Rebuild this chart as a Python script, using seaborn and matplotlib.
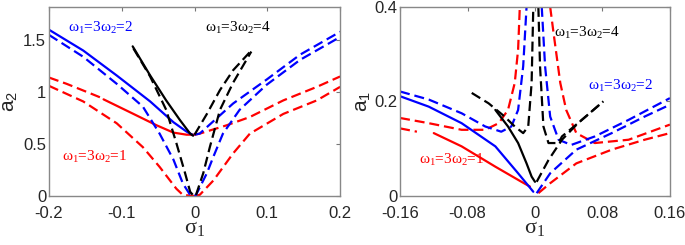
import numpy as np
import pandas as pd
import matplotlib
matplotlib.use("Agg")
import matplotlib.pyplot as plt
import seaborn as sns

# ---- left panel: a2 vs sigma1 ----
L_blue_solid_x = [-0.2, -0.153, -0.107, -0.061, -0.029, -0.011, -0.003]
L_blue_solid_y = [1.60, 1.40, 1.16, 0.91, 0.71, 0.62, 0.59]
L_blue_dash1_x = [-0.2, -0.153, -0.107, -0.071, -0.048, -0.029, -0.016, -0.006, 0.0]
L_blue_dash1_y = [1.55, 1.34, 1.08, 0.86, 0.60, 0.35, 0.12, 0.01, 0.0]
L_blue_dash2_x = [0.0, 0.007, 0.053, 0.099, 0.145, 0.2]
L_blue_dash2_y = [0.59, 0.60, 0.89, 1.12, 1.36, 1.58]
L_blue_dash3_x = [0.0, 0.002, 0.017, 0.026, 0.039, 0.062, 0.099, 0.145, 0.2]
L_blue_dash3_y = [0.0, 0.01, 0.22, 0.38, 0.60, 0.83, 1.07, 1.31, 1.53]

L_red_dash1_x = [-0.2, -0.176, -0.144, -0.130]
L_red_dash1_y = [1.14, 1.08, 0.99, 0.95]
L_red_solid_x = [-0.125, -0.084, -0.052, -0.029, -0.011, 0.0]
L_red_solid_y = [0.93, 0.79, 0.68, 0.61, 0.59, 0.59]
L_red_dash2_x = [-0.2, -0.153, -0.107, -0.071, -0.048, -0.025, -0.016, 0.0]
L_red_dash2_y = [1.06, 0.91, 0.70, 0.47, 0.28, 0.07, 0.01, 0.0]
L_red_dash3_x = [0.0, 0.007, 0.044, 0.076, 0.122, 0.168, 0.2]
L_red_dash3_y = [0.59, 0.60, 0.68, 0.76, 0.92, 1.05, 1.15]
L_red_dash4_x = [0.0, 0.007, 0.026, 0.053, 0.076, 0.122, 0.168, 0.2]
L_red_dash4_y = [0.0, 0.01, 0.15, 0.41, 0.60, 0.79, 0.92, 1.05]

L_black_solid_x = [-0.085, -0.061, -0.039, -0.020, -0.006, -0.002]
L_black_solid_y = [1.44, 1.16, 0.92, 0.73, 0.60, 0.58]
L_black_dash1_x = [-0.084, -0.061, -0.039, -0.025, -0.013, -0.006, -0.001]
L_black_dash1_y = [1.42, 1.15, 0.83, 0.51, 0.22, 0.04, 0.0]
L_black_dash2_x = [0.0, 0.017, 0.035, 0.053, 0.078]
L_black_dash2_y = [0.59, 0.79, 1.02, 1.21, 1.40]
L_black_dash3_x = [0.002, 0.012, 0.021, 0.035, 0.053, 0.078]
L_black_dash3_y = [0.01, 0.22, 0.47, 0.83, 1.09, 1.39]

# ---- right panel: a1 vs sigma1 ----
R_red_dash1_x = [-0.16, -0.126, -0.087, -0.059, -0.043, -0.032, -0.024, -0.020, -0.018]
R_red_dash1_y = [0.165, 0.154, 0.140, 0.140, 0.154, 0.182, 0.239, 0.31, 0.40]
R_red_dash2_x = [-0.16, -0.140]
R_red_dash2_y = [0.143, 0.136]
R_red_solid_x = [-0.120, -0.087, -0.047, -0.016, -0.006]
R_red_solid_y = [0.133, 0.105, 0.062, 0.030, 0.020]
R_red_dash3_x = [0.018, 0.022, 0.030, 0.037, 0.049, 0.071, 0.111, 0.16]
R_red_dash3_y = [0.40, 0.345, 0.239, 0.182, 0.133, 0.112, 0.119, 0.151]
R_red_dash4_x = [0.004, 0.018, 0.049, 0.091, 0.130, 0.16]
R_red_dash4_y = [0.006, 0.027, 0.069, 0.098, 0.119, 0.133]

R_blue_solid_x = [-0.16, -0.126, -0.087, -0.047, -0.020, -0.002]
R_blue_solid_y = [0.211, 0.189, 0.154, 0.105, 0.048, 0.009]
R_blue_dash1_x = [-0.16, -0.126, -0.087, -0.059, -0.040, -0.028, -0.020, -0.014, -0.010]
R_blue_dash1_y = [0.221, 0.204, 0.175, 0.147, 0.136, 0.147, 0.182, 0.274, 0.40]
R_blue_dash2_x = [0.008, 0.012, 0.018, 0.028, 0.043, 0.071, 0.111, 0.16]
R_blue_dash2_y = [0.40, 0.274, 0.168, 0.119, 0.108, 0.126, 0.161, 0.207]
R_blue_dash3_x = [0.002, 0.018, 0.049, 0.091, 0.130, 0.16]
R_blue_dash3_y = [0.006, 0.048, 0.098, 0.133, 0.168, 0.193]

R_black_dash1_x = [-0.075, -0.055, -0.036, -0.024, -0.014, -0.008, -0.004, -0.002]
R_black_dash1_y = [0.218, 0.196, 0.168, 0.147, 0.133, 0.147, 0.239, 0.40]
R_black_solid_x = [-0.047, -0.032, -0.020, -0.010, -0.004, 0.0]
R_black_solid_y = [0.182, 0.147, 0.112, 0.069, 0.041, 0.030]
R_black_dash2_x = [0.004, 0.006, 0.010, 0.016, 0.028, 0.032, 0.051, 0.081]
R_black_dash2_y = [0.40, 0.274, 0.147, 0.112, 0.112, 0.126, 0.154, 0.20]
R_black_dash3_x = [0.002, 0.016, 0.032, 0.051, 0.081]
R_black_dash3_y = [0.030, 0.076, 0.119, 0.154, 0.20]

LABELS = ['ω$_1$=3ω$_2$=1', 'ω$_1$=3ω$_2$=2', 'ω$_1$=3ω$_2$=4']

sns.set_style("white")
plt.rcParams['mathtext.default'] = 'regular'
plt.rcParams['font.family'] = ['Liberation Sans', 'DejaVu Sans']
SERIF = ['Liberation Serif', 'DejaVu Serif']

RED, BLUE, BLACK = '#ff0000', '#0000ff', '#000000'
LW = 1.6
DASH = (4.5, 2.2)


def draw(ax, x, y, color, dashed):
    df = pd.DataFrame({'s': x, 'a': y})
    sns.lineplot(data=df, x='s', y='a', ax=ax, color=color, lw=LW,
                 sort=False, estimator=None)
    if dashed:
        ax.get_lines()[-1].set_dashes(DASH)


fig = plt.figure(figsize=(6.85, 2.45), dpi=100)
ax1 = fig.add_axes([0.0715, 0.2, 0.425, 0.772])
ax2 = fig.add_axes([0.584, 0.2, 0.394, 0.772])

left = [
    (L_red_dash1_x, L_red_dash1_y, RED, True),
    (L_red_solid_x, L_red_solid_y, RED, False),
    (L_red_dash2_x, L_red_dash2_y, RED, True),
    (L_red_dash3_x, L_red_dash3_y, RED, True),
    (L_red_dash4_x, L_red_dash4_y, RED, True),
    (L_blue_solid_x, L_blue_solid_y, BLUE, False),
    (L_blue_dash1_x, L_blue_dash1_y, BLUE, True),
    (L_blue_dash2_x, L_blue_dash2_y, BLUE, True),
    (L_blue_dash3_x, L_blue_dash3_y, BLUE, True),
    (L_black_solid_x, L_black_solid_y, BLACK, False),
    (L_black_dash1_x, L_black_dash1_y, BLACK, True),
    (L_black_dash2_x, L_black_dash2_y, BLACK, True),
    (L_black_dash3_x, L_black_dash3_y, BLACK, True),
]
right = [
    (R_red_dash1_x, R_red_dash1_y, RED, True),
    (R_red_dash2_x, R_red_dash2_y, RED, True),
    (R_red_solid_x, R_red_solid_y, RED, False),
    (R_red_dash3_x, R_red_dash3_y, RED, True),
    (R_red_dash4_x, R_red_dash4_y, RED, True),
    (R_blue_solid_x, R_blue_solid_y, BLUE, False),
    (R_blue_dash1_x, R_blue_dash1_y, BLUE, True),
    (R_blue_dash2_x, R_blue_dash2_y, BLUE, True),
    (R_blue_dash3_x, R_blue_dash3_y, BLUE, True),
    (R_black_dash1_x, R_black_dash1_y, BLACK, True),
    (R_black_solid_x, R_black_solid_y, BLACK, False),
    (R_black_dash2_x, R_black_dash2_y, BLACK, True),
    (R_black_dash3_x, R_black_dash3_y, BLACK, True),
]
for c in left:
    draw(ax1, *c)
for c in right:
    draw(ax2, *c)

ax1.set_xlim(-0.2, 0.2)
ax1.set_ylim(0, 1.82)
ax1.set_xticks([-0.2, -0.1, 0, 0.1, 0.2])
ax1.set_xticklabels(['-0.2', '-0.1', '0', '0.1', '0.2'])
ax1.set_yticks([0, 0.5, 1, 1.5])
ax1.set_yticklabels(['0', '0.5', '1', '1.5'])
ax1.set_xlabel('σ$_1$', fontsize=16, family=SERIF, labelpad=-1)
ax1.set_ylabel('a$_2$', fontsize=15, labelpad=2)

ax2.set_xlim(-0.16, 0.16)
ax2.set_ylim(0, 0.4)
ax2.set_xticks([-0.16, -0.08, 0, 0.08, 0.16])
ax2.set_xticklabels(['-0.16', '-0.08', '0', '0.08', '0.16'])
ax2.set_yticks([0, 0.2, 0.4])
ax2.set_yticklabels(['0', '0.2', '0.4'])
ax2.set_xlabel('σ$_1$', fontsize=16, family=SERIF, labelpad=-1)
ax2.set_ylabel('a$_1$', fontsize=15, labelpad=1)

for ax in (ax1, ax2):
    ax.tick_params(direction='in', length=3, width=0.8, labelsize=12,
                   top=True, right=True, color='#777777')
    ax.tick_params(axis='x', pad=7)
    ax.tick_params(axis='y', pad=2)
    for sp in ax.spines.values():
        sp.set_color('#888888')
        sp.set_linewidth(1.0)

tkw = dict(fontsize=11, family=SERIF, ha='center', va='center')
ax1.text(-0.129, 1.62, LABELS[1], color=BLUE, **tkw)
ax1.text(0.059, 1.62, LABELS[2], color=BLACK, **tkw)
ax1.text(-0.137, 0.38, LABELS[0], color=RED, **tkw)
ax2.text(0.0612, 0.345, LABELS[2], color=BLACK, **tkw)
ax2.text(0.101, 0.232, LABELS[1], color=BLUE, **tkw)
ax2.text(-0.099, 0.076, LABELS[0], color=RED, **tkw)

fig.savefig('out.png', dpi=100)
